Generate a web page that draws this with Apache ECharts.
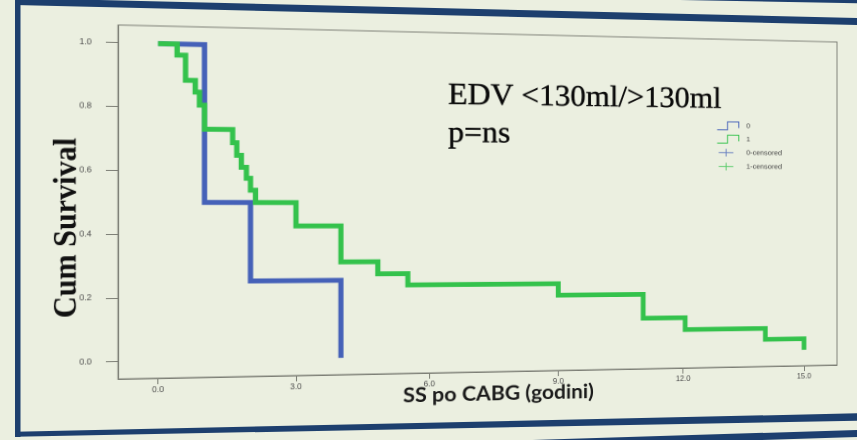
<!DOCTYPE html>
<html><head><meta charset="utf-8">
<script src="https://cdn.jsdelivr.net/npm/echarts@6/dist/echarts.min.js"></script>
<style>
html,body{margin:0;padding:0;background:#EBEFE0;overflow:hidden;width:857px;height:440px;}
#chart{position:absolute;left:0;top:0;width:857px;height:440px;transform-origin:0 0;}
#over{position:absolute;left:0;top:0;pointer-events:none;}
</style></head><body>
<div id="chart"></div>
<svg id="over" width="857" height="440">
  <g fill="#1D3F6E">
    <polygon points="15,-2 857,18 857,25 15,5"/>
    <polygon points="15,0 20.5,0 20.5,437 15,437"/>
    <polygon points="15,431.7 857,413.3 857,420.7 15,436.7"/>
    <polygon points="500,441 857,430 857,437 730,441"/>
    <polygon points="680,0 857,0 857,3.3"/>
  </g>
</svg>
<script>
// ---------------- data ----------------
const xTickValues = [0, 3, 6, 9, 12, 15];
const yTickValues = [0, 0.2, 0.4, 0.6, 0.8, 1.0];
const seriesNames = ['0', '1', '0-censored', '1-censored'];
const group0Time = [0, 1.0, 2.0, 4.0];
const group0Surv = [1.0, 0.50, 0.25, 0.0];
const group1Time = [0, 0.41, 0.59, 0.80, 0.89, 1.0, 1.61, 1.70, 1.80, 1.91, 2.0, 2.11, 3.0, 4.0, 4.83, 5.51, 9.0, 11.03, 12.05, 14.03, 15.0];
const group1Surv = [1.0, 0.965, 0.886, 0.849, 0.808, 0.732, 0.69, 0.65, 0.612, 0.577, 0.539, 0.50, 0.425, 0.309, 0.27, 0.233, 0.195, 0.115, 0.075, 0.038, 0.0];
const censored0 = [];
const censored1 = [];
const titleLine1 = 'EDV <130ml/>130ml';
const titleLine2 = 'p=ns';
const xAxisTitle = 'SS po CABG (godini)';
const yAxisTitle = 'Cum Survival';

// ---------------- perspective (photo of a slide) ----------------
function solve(A, b) {
  const n = b.length;
  for (let i = 0; i < n; i++) {
    let p = i;
    for (let r = i + 1; r < n; r++) if (Math.abs(A[r][i]) > Math.abs(A[p][i])) p = r;
    [A[i], A[p]] = [A[p], A[i]]; [b[i], b[p]] = [b[p], b[i]];
    for (let r = i + 1; r < n; r++) {
      const f = A[r][i] / A[i][i];
      for (let c = i; c < n; c++) A[r][c] -= f * A[i][c];
      b[r] -= f * b[i];
    }
  }
  const x = new Array(n);
  for (let i = n - 1; i >= 0; i--) {
    let s = b[i];
    for (let c = i + 1; c < n; c++) s -= A[i][c] * x[c];
    x[i] = s / A[i][i];
  }
  return x;
}
function homography(src, dst) {
  const A = [], b = [];
  for (let i = 0; i < 4; i++) {
    const [x, y] = src[i], [X, Y] = dst[i];
    A.push([x, y, 1, 0, 0, 0, -x * X, -y * X]); b.push(X);
    A.push([0, 0, 0, x, y, 1, -x * Y, -y * Y]); b.push(Y);
  }
  const h = solve(A, b);
  return [[h[0], h[1], h[2]], [h[3], h[4], h[5]], [h[6], h[7], 1]];
}
function inv3(m) {
  const [a, b, c] = m[0], [d, e, f] = m[1], [g, h, i] = m[2];
  const A = e * i - f * h, B = -(d * i - f * g), C = d * h - e * g;
  const det = a * A + b * B + c * C;
  return [[A / det, -(b * i - c * h) / det, (b * f - c * e) / det],
          [B / det, (a * i - c * g) / det, -(a * f - c * d) / det],
          [C / det, -(a * h - b * g) / det, (a * e - b * d) / det]];
}
function apply(m, x, y) {
  const w = m[2][0] * x + m[2][1] * y + m[2][2];
  return [(m[0][0] * x + m[0][1] * y + m[0][2]) / w, (m[1][0] * x + m[1][1] * y + m[1][2]) / w, w];
}
const PL = 118, PT = 25, PR = 837, PB = 379;
const H = homography([[PL, PT], [PR, PT], [PR, PB], [PL, PB]],
                     [[PL, PT], [PR, 42], [PR, 365], [PL, PB]]);
const Hi = inv3(H);
function flat(x, y) { return apply(Hi, x, y); }
function scaleAt(x, y) { const f = flat(x, y); return H[2][0] * f[0] + H[2][1] * f[1] + H[2][2]; }

const el = document.getElementById('chart');
el.style.transform = 'matrix3d(' + [H[0][0], H[1][0], 0, H[2][0], H[0][1], H[1][1], 0, H[2][1], 0, 0, 1, 0, H[0][2], H[1][2], 0, H[2][2]].join(',') + ')';

// axis extents from where the ticks sit in the photo
const fx0 = flat(158, 379)[0], fx15 = flat(804, 365.6)[0];
const cx = (fx15 - fx0) / 15;
const xMin = -(fx0 - PL) / cx, xMax = (PR - fx0) / cx;
const y1px = 42.7, y0px = 361.7, cy = y0px - y1px;
const yMin = -(PB - y0px) / cy, yMax = 1 + (y1px - PT) / cy;

const BLUE = '#4561B8', GREEN = '#34C24C', AXIS = '#7d7f76';
const STEP_ICON = 'path://M0,8 L10,8 L10,0 L21,0 L21,6';
const PLUS_ICON = 'path://M1,4.5 L16,4.5 M8.5,0.5 L8.5,8.5 M0,0 M21,9';

const legPos = flat(712, 116.5);
const legS = scaleAt(722, 140);
const tPos = flat(448, 96), tS = scaleAt(580, 96);
const pPos = flat(448, 133.5);
const xnPos = flat(403, 396), xnS = scaleAt(500, 396);
const ynPos = flat(67, 228);

const chart = echarts.init(el, null, { renderer: 'canvas', devicePixelRatio: 2 });
chart.setOption({
  animation: false,
  backgroundColor: 'transparent',
  grid: { left: PL, top: PT, width: PR - PL, height: PB - PT, show: true, borderColor: AXIS, borderWidth: 1, backgroundColor: 'transparent', outerBoundsMode: 'none' },
  xAxis: {
    type: 'value', min: xMin, max: xMax,
    axisLine: { show: true, onZero: false, lineStyle: { color: AXIS, width: 1 } },
    axisTick: { show: true, length: 6, customValues: xTickValues, lineStyle: { color: AXIS } },
    axisLabel: { customValues: xTickValues, formatter: v => v.toFixed(1), fontSize: 8, color: '#4a4a4a', fontFamily: 'Liberation Sans', margin: 8 },
    splitLine: { show: false }
  },
  yAxis: {
    type: 'value', min: yMin, max: yMax,
    axisLine: { show: true, onZero: false, lineStyle: { color: AXIS, width: 1 } },
    axisTick: { show: true, length: 11, customValues: yTickValues, lineStyle: { color: AXIS } },
    axisLabel: { customValues: yTickValues, formatter: v => v.toFixed(1), fontSize: 8, color: '#4a4a4a', fontFamily: 'Liberation Sans', margin: 24 },
    splitLine: { show: false }
  },
  legend: {
    orient: 'vertical', left: legPos[0], top: legPos[1],
    itemWidth: 21 * legS, itemHeight: 8.5 * legS, itemGap: 12.7 * legS - 8.5 * legS,
    selectedMode: false,
    textStyle: { fontSize: 7 * legS, lineHeight: 8.5 * legS, color: '#444', fontFamily: 'Liberation Sans', padding: [0, 0, 0, 3] },
    data: [
      { name: seriesNames[0], icon: STEP_ICON, itemStyle: { color: 'rgba(0,0,0,0)', borderColor: BLUE, borderWidth: 1 } },
      { name: seriesNames[1], icon: STEP_ICON, itemStyle: { color: 'rgba(0,0,0,0)', borderColor: GREEN, borderWidth: 1 } },
      { name: seriesNames[2], icon: PLUS_ICON, itemStyle: { color: 'rgba(0,0,0,0)', borderColor: BLUE, borderWidth: 1 } },
      { name: seriesNames[3], icon: PLUS_ICON, itemStyle: { color: 'rgba(0,0,0,0)', borderColor: GREEN, borderWidth: 1 } }
    ]
  },
  series: [
    { name: seriesNames[0], type: 'line', step: 'end', z: 2, symbol: 'none', showSymbol: false,
      data: group0Time.map((t, i) => [t, group0Surv[i]]),
      lineStyle: { color: BLUE, width: 5, cap: 'butt', join: 'miter' }, itemStyle: { color: BLUE } },
    { name: seriesNames[1], type: 'line', step: 'end', z: 3, symbol: 'none', showSymbol: false,
      data: group1Time.map((t, i) => [t, group1Surv[i]]),
      lineStyle: { color: GREEN, width: 5, cap: 'butt', join: 'miter' }, itemStyle: { color: GREEN } },
    { name: seriesNames[2], type: 'scatter', data: censored0, symbol: PLUS_ICON, symbolSize: 10, itemStyle: { color: 'rgba(0,0,0,0)', borderColor: BLUE, borderWidth: 1 } },
    { name: seriesNames[3], type: 'scatter', data: censored1, symbol: PLUS_ICON, symbolSize: 10, itemStyle: { color: 'rgba(0,0,0,0)', borderColor: GREEN, borderWidth: 1 } }
  ],
  graphic: [
    { type: 'text', x: ynPos[0], y: ynPos[1], rotation: Math.PI / 2, z: 10,
      style: { text: yAxisTitle, font: 'bold 30px "Liberation Serif"', fill: '#111', align: 'center', verticalAlign: 'middle' } },
    { type: 'text', x: tPos[0], y: tPos[1], z: 10,
      style: { text: titleLine1, font: (29.5 * tS).toFixed(1) + 'px "Liberation Serif"', fill: '#0a0a0a', stroke: '#0a0a0a', lineWidth: 0.4, align: 'left', verticalAlign: 'middle' } },
    { type: 'text', x: pPos[0], y: pPos[1], z: 10,
      style: { text: titleLine2, font: (29.5 * tS).toFixed(1) + 'px "Liberation Serif"', fill: '#0a0a0a', stroke: '#0a0a0a', lineWidth: 0.4, align: 'left', verticalAlign: 'middle' } },
    { type: 'text', x: xnPos[0], y: xnPos[1], z: 10,
      style: { text: xAxisTitle, font: 'bold ' + (20 * xnS).toFixed(1) + 'px Lato', fill: '#1a1a1a', align: 'left', verticalAlign: 'middle' } }
  ]
});
</script>
</body></html>
